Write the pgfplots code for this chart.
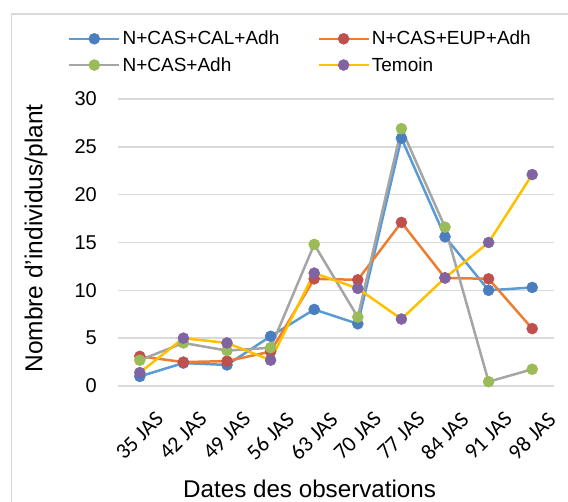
\documentclass[border=0pt]{standalone}
\usepackage{fontspec}
\setmainfont{Liberation Sans}
\newfontfamily\calibri{Carlito}
\usepackage{pgfplots}
\pgfplotsset{compat=1.18}

\definecolor{gridc}{HTML}{D9D9D9}
\definecolor{blueL}{HTML}{5B9BD5}
\definecolor{blueM}{HTML}{4A7EBF}
\definecolor{orangeL}{HTML}{ED7D31}
\definecolor{redM}{HTML}{C0504D}
\definecolor{grayL}{HTML}{A5A5A5}
\definecolor{greenM}{HTML}{9BBB59}
\definecolor{yellowL}{HTML}{FFC000}
\definecolor{purpleM}{HTML}{8064A2}

\begin{document}
\begin{tikzpicture}
\useasboundingbox (0,0) rectangle (568bp,502bp);
% chart area frame (only top and left visible)
\draw[gridc, line width=1.5bp] (11.5bp,-5bp) -- (11.5bp,488bp) -- (575bp,488bp);
\begin{axis}[
    at={(118bp,116bp)}, anchor=south west,
    scale only axis,
    width=436bp, height=287bp,
    xmin=-0.5, xmax=9.5,
    ymin=0, ymax=30,
    clip=false,
    axis line style={draw=none},
    major tick length=0pt,
    xtick={0,...,9},
    xticklabels={35 JAS,42 JAS,49 JAS,56 JAS,63 JAS,70 JAS,77 JAS,84 JAS,91 JAS,98 JAS},
    xticklabel style={font=\calibri\fontsize{22bp}{24bp}\selectfont, rotate=45, anchor=east, inner sep=0pt, xshift=-7bp, yshift=-35bp},
    ytick={0,5,...,30},
    yticklabel style={font=\fontsize{20bp}{24bp}\selectfont, anchor=east, inner sep=0pt, xshift=-21bp},
    /pgf/number format/assume math mode=true,
    ymajorgrids,
    grid style={gridc, line width=1.4bp},
    xlabel={Dates des observations},
    xlabel style={font=\fontsize{24.2bp}{28bp}\selectfont, at={(axis description cs:0.149,-0.390)}, anchor=base west, inner sep=0pt},
    ylabel={Nombre d'individus/plant},
    ylabel style={font=\fontsize{24.5bp}{28bp}\selectfont, at={(axis description cs:-0.188,0.514)}, anchor=center, rotate=0, inner sep=0pt},
    every axis plot/.append style={line width=2.5bp, mark=*, mark size=5.5bp},
    legend columns=2,
    legend cell align=left,
    legend image code/.code={\draw[mark repeat=2, mark phase=2, #1] plot coordinates {(0bp,0bp) (25bp,0bp) (50bp,0bp)};},
    legend style={draw=none, fill=none, at={(axis description cs:-0.115,1.244)}, anchor=north west,
        font=\fontsize{19bp}{22bp}\selectfont, inner sep=0pt, row sep=7bp,
        /tikz/every even column/.append style={column sep=36bp}},
]
\addplot[blueL, mark options={draw=blueM, fill=blueM, line width=0.5bp}] coordinates {
    (0,1.0) (1,2.4) (2,2.2) (3,5.2) (4,8.0) (5,6.5) (6,25.9) (7,15.6) (8,10.0) (9,10.3)};
\addlegendentry{N+CAS+CAL+Adh}
\addplot[orangeL, mark options={draw=redM, fill=redM, line width=0.5bp}] coordinates {
    (0,3.1) (1,2.5) (2,2.6) (3,3.6) (4,11.2) (5,11.1) (6,17.1) (7,11.3) (8,11.2) (9,6.0)};
\addlegendentry{N+CAS+EUP+Adh}
\addplot[grayL, mark options={draw=greenM, fill=greenM, line width=0.5bp}] coordinates {
    (0,2.7) (1,4.5) (2,3.7) (3,4.0) (4,14.8) (5,7.2) (6,26.9) (7,16.6) (8,0.45) (9,1.75)};
\addlegendentry{N+CAS+Adh}
\addplot[yellowL, mark options={draw=purpleM, fill=purpleM, line width=0.5bp}] coordinates {
    (0,1.4) (1,5.0) (2,4.5) (3,2.7) (4,11.8) (5,10.2) (6,7.0) (7,11.3) (8,15.0) (9,22.1)};
\addlegendentry{Temoin}
\end{axis}
\end{tikzpicture}
\end{document}
